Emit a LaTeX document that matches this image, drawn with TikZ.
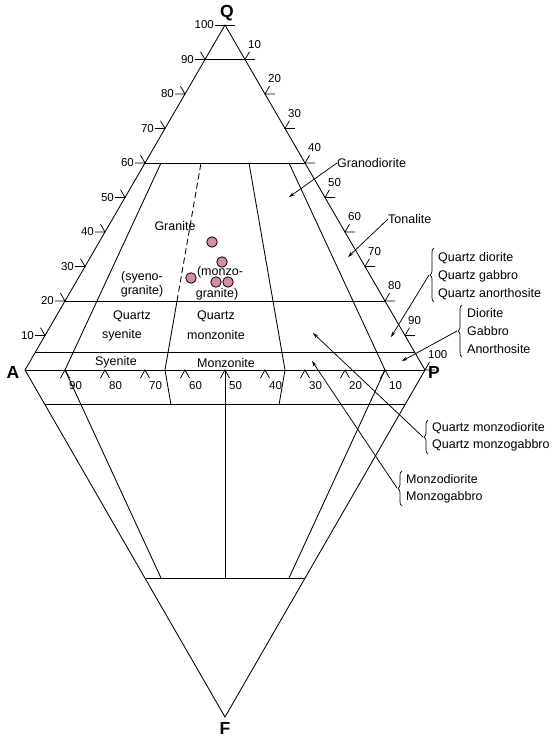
\documentclass[tikz,border=0pt]{standalone}
\usepackage{fontspec}
\setmainfont{Liberation Sans}
\usetikzlibrary{arrows.meta,decorations.pathreplacing}
\definecolor{ptpink}{RGB}{212,140,170}
\begin{document}
\begin{tikzpicture}[x=1pt,y=-1pt,
  ln/.style={line width=0.85pt},
  tk/.style={line width=0.75pt},
  num/.style={font=\fontsize{11.5}{13}\selectfont, inner sep=0pt},
  lab/.style={font=\fontsize{12.5}{15}\selectfont, inner sep=0pt},
  vtx/.style={font=\bfseries\fontsize{17.5}{20}\selectfont, inner sep=0pt},
  arr/.style={line width=0.75pt, -{Stealth[length=5.5pt,width=3.5pt]}},
  brc/.style={decorate, decoration={brace, amplitude=4pt}, line width=0.7pt},
  dot/.style={circle, draw=black, fill=ptpink, line width=0.8pt, minimum size=10.5pt, inner sep=0pt}]
\useasboundingbox (0,0) rectangle (552,740);
% vertices
\coordinate (Q) at (225,25);
\coordinate (A) at (25,370);
\coordinate (P) at (425,370);
\coordinate (F) at (225,717);
\draw[ln] (A) -- (Q) -- (P) -- (F) -- cycle;
\draw[ln] (A) -- (P);
% horizontal lines of upper triangle
\draw[ln] (205,59.5) -- (245,59.5);
\draw[ln] (145,163) -- (305,163);
\draw[ln] (65,301) -- (385,301);
\draw[ln] (35,352.75) -- (415,352.75);
% upper field boundaries
\draw[ln] (65,370) -- (161,163);
\draw[ln] (165,370) -- (177,301);
\draw[ln, dash pattern=on 6pt off 3.5pt] (177,301) -- (201,163);
\draw[ln] (285,370) -- (249,163);
\draw[ln] (385,370) -- (289,163);
% lower triangle
\draw[ln] (45,404.7) -- (405,404.7);
\draw[ln] (145,578) -- (305,578);
\draw[ln] (165,370) -- (171,404.7);
\draw[ln] (285,370) -- (279,404.7);
\draw[ln] (65,370) -- (161,578);
\draw[ln] (385,370) -- (289,578);
\draw[ln] (225,370) -- (225,578);
% left ticks
\foreach \q in {10,20,...,90}{
  \pgfmathsetmacro{\xe}{25+2*\q}
  \pgfmathsetmacro{\ye}{370-3.45*\q}
  \draw[tk] (\xe-10,\ye) -- (\xe,\ye) -- (\xe-4.5,\ye-7.8);
  \node[num, anchor=east] (l\q) at (\xe-11,\ye) {\q};
}
\draw[tk] (215,25) -- (235,25);
\node[num, anchor=east] (l100) at (214,25) {100};
% right ticks
\foreach \k in {10,20,...,100}{
  \pgfmathsetmacro{\xe}{225+2*\k}
  \pgfmathsetmacro{\ye}{25+3.45*\k}
  \draw[tk] (\xe+10,\ye) -- (\xe,\ye) -- (\xe+4.5,\ye-7.8);
  \node[num, anchor=west] (r\k) at (\xe+3,\ye-15) {\k};
}
% bottom ticks
\foreach \a in {90,80,...,10}{
  \pgfmathsetmacro{\xb}{425-4*\a}
  \draw[tk] (\xb-4.5,378) -- (\xb,370) -- (\xb+4.5,378);
  \node[num, anchor=west] (b\a) at (\xb+4,386) {\a};
}
% vertex labels
\node[vtx] (nQ) at (227,13) {Q};
\node[vtx] (nA) at (13,372) {A};
\node[vtx] (nP) at (434,372) {P};
\node[vtx] (nF) at (225,728) {F};
% field labels
\node[lab] (granite) at (175,226) {Granite};
\node[lab] (syeno1) at (142,277) {(syeno-};
\node[lab] (syeno2) at (142,291) {granite)};
\node[lab] (monzo1) at (220,272) {(monzo-};
\node[lab] (monzo2) at (217,294) {granite)};
\node[lab] (qs1) at (132,316) {Quartz};
\node[lab] (qs2) at (122,335) {syenite};
\node[lab] (qm1) at (216,316) {Quartz};
\node[lab] (qm2) at (216,335) {monzonite};
\node[lab] (sy) at (116,362) {Syenite};
\node[lab] (mz) at (226,363) {Monzonite};
% data points
\node[dot] (p1) at (212,242) {};
\node[dot] (p2) at (222,262) {};
\node[dot] (p3) at (191,278) {};
\node[dot] (p4) at (216,282) {};
\node[dot] (p5) at (228,282) {};
% right labels
\node[lab, anchor=west] (grd) at (337,163) {Granodiorite};
\node[lab, anchor=west] (ton) at (388,219) {Tonalite};
\node[lab, anchor=west] (qd1) at (438,258) {Quartz diorite};
\node[lab, anchor=west] (qd2) at (438,276) {Quartz gabbro};
\node[lab, anchor=west] (qd3) at (438,294) {Quartz anorthosite};
\node[lab, anchor=west] (di1) at (467,313) {Diorite};
\node[lab, anchor=west] (di2) at (467,331) {Gabbro};
\node[lab, anchor=west] (di3) at (467,349) {Anorthosite};
\node[lab, anchor=west] (qmd1) at (432,428) {Quartz monzodiorite};
\node[lab, anchor=west] (qmd2) at (432,445) {Quartz monzogabbro};
\node[lab, anchor=west] (md1) at (406,479) {Monzodiorite};
\node[lab, anchor=west] (md2) at (406,497) {Monzogabbro};
% braces
\draw[brc] (434,302) -- (434,248);
\draw[brc] (462,357) -- (462,305);
\draw[brc] (428,454) -- (428,420);
\draw[brc] (402,506) -- (402,471);
% arrow targets and tails
\coordinate (tgrd) at (289,197);
\coordinate (tton) at (348,257);
\coordinate (tqd) at (391,337);
\coordinate (tdi) at (402,361);
\coordinate (tqmd) at (313,333);
\coordinate (tmd) at (312,361);
\coordinate (sqd) at (429,275);
\coordinate (sdi) at (457,331);
\coordinate (sqmd) at (423,437);
\coordinate (smd) at (397,488);
\draw[arr] (grd.west) -- (tgrd);
\draw[arr] (ton.west) -- (tton);
\draw[arr] (sqd) -- (tqd);
\draw[arr] (sdi) -- (tdi);
\draw[arr] (sqmd) -- (tqmd);
\draw[arr] (smd) -- (tmd);
\end{tikzpicture}
\end{document}
